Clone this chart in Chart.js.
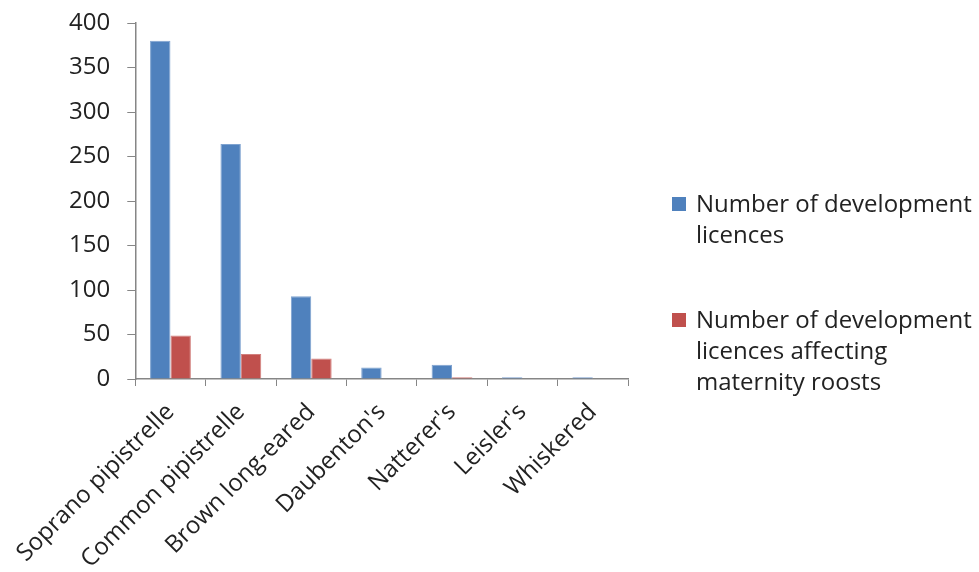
<!DOCTYPE html>
<html>
<head>
<meta charset="utf-8">
<script src="https://cdn.jsdelivr.net/npm/chart.js@4.4.0/dist/chart.umd.min.js"></script>
<style>
  html, body { margin: 0; padding: 0; background: #fff; }
  #wrap { position: relative; width: 979px; height: 572px; }
  #legend { position: absolute; left: 672px; top: 187px; font-family: "Open Sans", sans-serif; font-size: 24px; color: #222; line-height: 31px; }
  .item { position: relative; padding-left: 24px; white-space: nowrap; }
  .item + .item { margin-top: 54px; }
  .box { position: absolute; left: 0; top: 10px; width: 14px; height: 14px; }
</style>
</head>
<body>
<div id="wrap">
  <canvas id="myChart" width="979" height="572"></canvas>
  <div id="legend">
    <div class="item"><span class="box" style="background:#4F81BD"></span>Number of development<br>licences</div>
    <div class="item"><span class="box" style="background:#C0504D"></span>Number of development<br>licences affecting<br>maternity roosts</div>
  </div>
</div>
<script>
const species = ['Soprano pipistrelle', 'Common pipistrelle', 'Brown long-eared', "Daubenton's", "Natterer's", "Leisler's", 'Whiskered'];
const devLicences = [380, 264, 93, 13, 16, 2, 2];
const maternityLicences = [49, 28, 23, 0, 2, 0, 0];

const ctx = document.getElementById('myChart').getContext('2d');
const myChart = new Chart(ctx, {
    type: 'bar',
    data: {
        labels: species,
        datasets: [{
            label: 'Number of development licences',
            data: devLicences,
            backgroundColor: '#4F81BD',
            borderColor: '#7FA3D0',
            borderWidth: 1,
            categoryPercentage: 0.58,
            barPercentage: 1
        }, {
            label: 'Number of development licences affecting maternity roosts',
            data: maternityLicences,
            backgroundColor: '#C0504D',
            borderColor: '#D27F7D',
            borderWidth: 1,
            categoryPercentage: 0.58,
            barPercentage: 1
        }]
    },
    options: {
        responsive: false,
        animation: false,
        layout: { padding: { top: 23, right: 351, left: 0, bottom: 0 } },
        plugins: {
            legend: { display: false },
            tooltip: { enabled: false }
        },
        scales: {
            x: {
                grid: { offset: true, drawOnChartArea: false, color: '#868686', tickLength: 7 },
                border: { color: '#868686', width: 1.5 },
                ticks: {
                    color: '#222',
                    font: { family: 'Open Sans', size: 24 },
                    maxRotation: 45,
                    minRotation: 45,
                    padding: 12
                },
                afterFit: (scale) => { scale.height = 193; }
            },
            y: {
                min: 0,
                max: 400,
                grid: { drawOnChartArea: false, color: '#868686', tickLength: 8 },
                border: { color: '#868686', width: 1.5 },
                ticks: {
                    stepSize: 50,
                    color: '#222',
                    font: { family: 'Open Sans', size: 24, lineHeight: 1 },
                    padding: 17
                },
                afterFit: (scale) => { scale.width = 128; scale.paddingTop = 0; }
            }
        }
    }
});
</script>
</body>
</html>
